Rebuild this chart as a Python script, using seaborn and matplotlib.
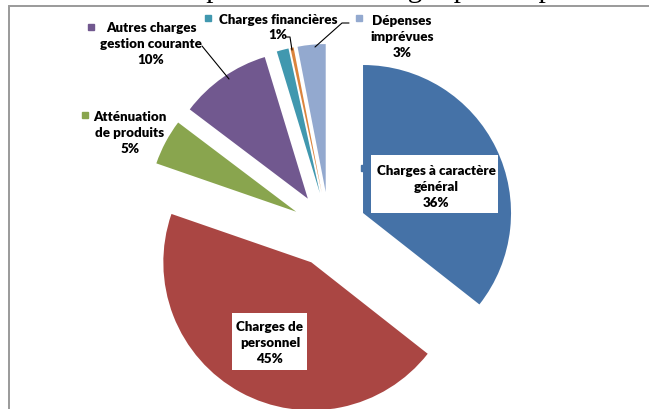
import matplotlib
matplotlib.use("Agg")
import matplotlib.pyplot as plt
import seaborn as sns
from matplotlib.patches import Rectangle

sns.set_theme(style="white")
plt.rcParams['font.family'] = ['Lato', 'DejaVu Sans']

# ---- data ----
categories = ["Charges à caractère\ngénéral", "Charges de\npersonnel", "Atténuation\nde produits",
              "Autres charges\ngestion courante", "Charges financières", "Opérations d'ordre",
              "Dépenses\nimprévues"]
values = [35.6, 44.7, 5.0, 10.0, 1.3, 0.35, 3.05]
colors = ["#4572A7", "#AA4643", "#89A54E", "#71588F", "#4198AF", "#DB843D", "#93A9CF"]
title = "Répartition des charges par chapitre"

W, H = 649, 409
fig = plt.figure(figsize=(W / 100, H / 100), dpi=100)
ax = fig.add_axes([0, 0, 1, 1])

def Y(y):
    return H - y

center = (329.3, Y(229.4))
radius = 148
ax.pie(values, colors=colors, startangle=90, counterclock=False,
       explode=[37.5] * len(values), radius=radius, center=center,
       wedgeprops=dict(linewidth=0))
ax.set_xlim(0, W)
ax.set_ylim(0, H)
ax.set_aspect('auto')
ax.axis('off')

# frame
ax.add_patch(Rectangle((8.5, -20), W + 20, Y(5.5) + 20, fill=False, edgecolor='#9A9A9A',
                       lw=1.4, clip_on=False, zorder=1))

# clipped title (only its descenders are visible in the reference)
fig.text(383 / W, (H + 3) / H, title, ha='center', va='baseline', fontsize=21,
         family='Liberation Serif', color='black')

fs = 9.6
ls = 1.38
lab = [f"{c}\n{round(v)}%" for c, v in zip(categories, values)]

def label(x, y, s):
    ax.text(x, Y(y), s, ha='center', va='center', fontsize=fs, fontweight='heavy',
            linespacing=ls, zorder=6, color='black')

# blue label (white box)
ax.plot([364], [Y(168)], marker='s', ms=5, color=colors[0], zorder=4)
ax.add_patch(Rectangle((371, Y(213)), 127, 58, fc='white', ec='none', zorder=5))
label(436, 187, lab[0])

# red label (white box)
ax.add_patch(Rectangle((232, Y(370)), 75, 57, fc='white', ec='none', zorder=5))
label(270, 343, lab[1])

# green label
label(130, 133, lab[2])
ax.plot([85], [Y(115)], marker='s', ms=5, color=colors[2], zorder=6)

# purple label
label(151, 44, lab[3])
ax.plot([91], [Y(27)], marker='s', ms=5, color=colors[3], zorder=6)
ax.plot([202, 229], [Y(46), Y(79)], color='black', lw=0.8, zorder=6)

# teal label
label(278, 27.5, lab[4])
ax.plot([208], [Y(18)], marker='s', ms=5, color=colors[4], zorder=6)
ax.plot([286, 290, 292], [Y(37), Y(37), Y(50)], color='black', lw=0.8, zorder=6)

# light blue label
label(402, 37, lab[6])
ax.plot([359], [Y(18)], marker='s', ms=5, color=colors[6], zorder=6)
ax.plot([349, 342, 315], [Y(23), Y(23), Y(47)], color='black', lw=0.8, zorder=6)

fig.savefig("out.png", dpi=100)
